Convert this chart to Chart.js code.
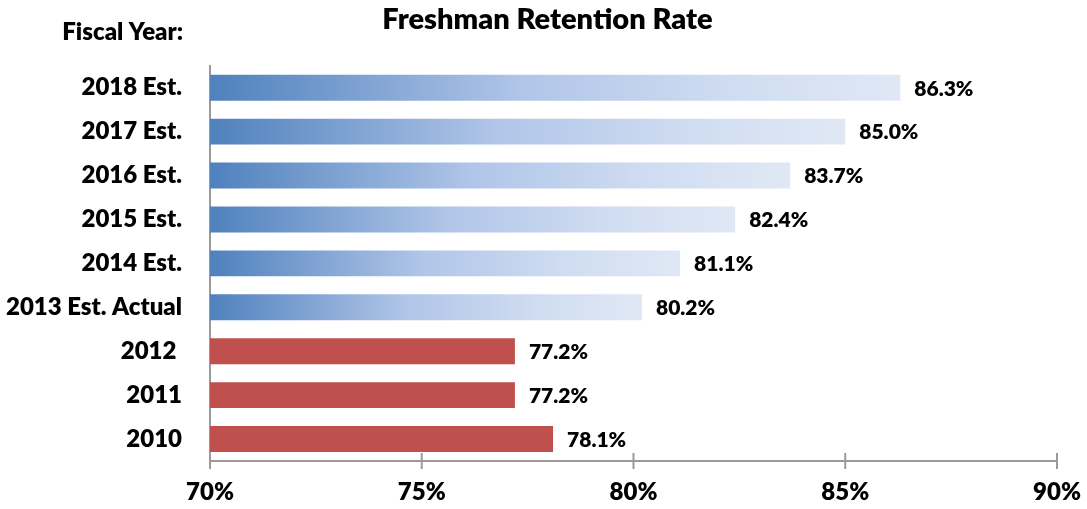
<!DOCTYPE html>
<html>
<head>
<meta charset="utf-8">
<script src="https://cdn.jsdelivr.net/npm/chart.js@4"></script>
<style>
  html, body { margin: 0; padding: 0; background: #fff; }
  #wrap { width: 1087px; height: 509px; position: relative; }
</style>
</head>
<body>
<div id="wrap"><canvas id="retentionChart"></canvas></div>
<script>
const fiscalYears = ["2018 Est.", "2017 Est.", "2016 Est.", "2015 Est.", "2014 Est.", "2013 Est. Actual", "2012 ", "2011", "2010"];
const retentionRates = [86.3, 85.0, 83.7, 82.4, 81.1, 80.2, 77.2, 77.2, 78.1];
const isEstimate = [true, true, true, true, true, true, false, false, false];
const axisTicks = [70, 75, 80, 85, 90];

const FONT = "Lato, 'Open Sans', sans-serif";
const WEIGHT = "800";
const BLUE_DARK = "#4f81bd";
const RED = "#c0504d";
const AXIS_GRAY = "#9a9a9a";

// gradient for the estimate bars, running from the axis to the bar end
function barColor(context) {
  const i = context.dataIndex;
  if (!isEstimate[i]) return RED;
  const chart = context.chart;
  const { ctx, chartArea, scales } = chart;
  if (!chartArea) return BLUE_DARK;
  const x0 = scales.x.getPixelForValue(scales.x.min);
  const x1 = scales.x.getPixelForValue(retentionRates[i]);
  const g = ctx.createLinearGradient(x0, 0, x1, 0);
  g.addColorStop(0, "#4f81bd");
  g.addColorStop(0.45, "#b0c5e8");
  g.addColorStop(0.75, "#cfdcf1");
  g.addColorStop(1, "#e0e8f5");
  return g;
}

const extras = {
  id: "extras",
  afterLayout(chart) {
    // title sits a bit right of the canvas centre, over the plot
    if (chart.titleBlock) {
      chart.titleBlock.left += 34;
    }
  },
  afterDatasetsDraw(chart) {
    const { ctx, chartArea, scales } = chart;
    ctx.save();

    // value labels
    ctx.font = WEIGHT + " 21px " + FONT;
    ctx.fillStyle = "#000";
    ctx.textAlign = "left";
    ctx.textBaseline = "middle";
    chart.getDatasetMeta(0).data.forEach((bar, i) => {
      ctx.fillText(retentionRates[i].toFixed(1) + "%", bar.x + 14, bar.y + 1);
    });

    // tick marks crossing the x axis
    ctx.strokeStyle = AXIS_GRAY;
    ctx.lineWidth = 2;
    axisTicks.forEach(v => {
      const x = scales.x.getPixelForValue(v);
      ctx.beginPath();
      ctx.moveTo(x, chartArea.bottom - 8);
      ctx.lineTo(x, chartArea.bottom + 8);
      ctx.stroke();
    });

    // header over the category labels
    ctx.font = WEIGHT + " 24px " + FONT;
    ctx.textAlign = "right";
    ctx.fillText("Fiscal Year:", chartArea.left - 27, 32);
    ctx.restore();
  }
};

new Chart(document.getElementById("retentionChart"), {
  type: "bar",
  data: {
    labels: fiscalYears,
    datasets: [{
      data: retentionRates,
      backgroundColor: barColor,
      borderWidth: 0,
      barPercentage: 0.59,
      categoryPercentage: 1.0
    }]
  },
  options: {
    indexAxis: "y",
    responsive: true,
    maintainAspectRatio: false,
    animation: false,
    layout: { padding: { left: 4, right: 30, bottom: 0 } },
    plugins: {
      legend: { display: false },
      tooltip: { enabled: false },
      title: {
        display: true,
        text: "Freshman Retention Rate",
        color: "#000",
        font: { family: FONT, size: 29, weight: WEIGHT },
        padding: { top: 2, bottom: 29 }
      }
    },
    scales: {
      x: {
        min: 70,
        max: 90,
        afterBuildTicks: scale => {
          scale.ticks = axisTicks.map(v => ({ value: v }));
        },
        afterFit: scale => {
          scale.height = 48;
          scale.paddingLeft = 0;
          scale.paddingRight = 0;
        },
        ticks: {
          color: "#000",
          font: { family: FONT, size: 24, weight: WEIGHT },
          padding: 9,
          maxRotation: 0,
          callback: v => v + "%"
        },
        grid: { display: false },
        border: { display: true, color: AXIS_GRAY, width: 2 }
      },
      y: {
        afterFit: scale => { scale.width = 210 - 4; },
        ticks: {
          color: "#000",
          font: { family: FONT, size: 24, weight: WEIGHT },
          padding: 20
        },
        grid: { display: false },
        border: { display: true, color: AXIS_GRAY, width: 2 }
      }
    }
  },
  plugins: [extras]
});
</script>
</body>
</html>
